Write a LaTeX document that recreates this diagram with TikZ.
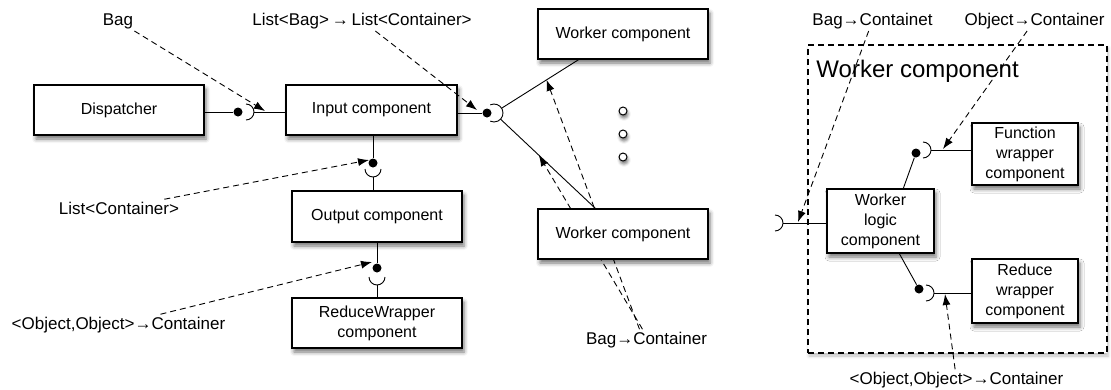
\documentclass[tikz,border=0pt]{standalone}
\usepackage{fontspec}
\setsansfont{Liberation Sans}
\usetikzlibrary{arrows.meta,calc,shadows.blur}

\begin{document}
\begin{tikzpicture}[x=1pt,y=-1pt,>={Latex[length=11pt,width=8pt]},line width=0.9pt,
	comp/.style={draw,fill=white,line width=1.1pt,inner sep=0pt,align=center,
		font=\sffamily\fontsize{16}{20}\selectfont,
		blur shadow={shadow xshift=2pt,shadow yshift=-4pt,shadow blur radius=4pt,shadow opacity=55}},
	wide/.style={minimum width=170pt,minimum height=50pt},
	ball/.style={circle,fill=black,inner sep=0pt,minimum size=9pt},
	dot/.style={circle,draw,fill=white,line width=1pt,inner sep=0pt,minimum size=8pt,
		blur shadow={shadow xshift=1pt,shadow yshift=-3pt,shadow blur radius=3pt,shadow opacity=55}},
	sig/.style={font=\sffamily\fontsize{17}{20}\selectfont,inner sep=2pt,anchor=base},
	dep/.style={->,dash pattern=on 6pt off 4pt}]
\useasboundingbox (0,0) rectangle (1111,389);

% left part: components
\node[comp,wide] (disp) at (119,110) {Dispatcher};
\node[comp,wide,minimum width=171pt] (input) at (371.5,110) {Input component};
\node[comp,wide,minimum height=51pt] (output) at (377,216.5) {Output component};
\node[comp,wide] (rwrapper) at (377,323) {ReduceWrapper\\component};
\node[comp,wide] (workerA) at (623,34) {Worker component};
\foreach \i/\y in {1/111,2/134,3/157}
	\node[dot] (dot\i) at (623,\y) {};

% balls and sockets
\node[ball] (b1) at (238,112) {};
\coordinate (s1) at (246,112);
\node[ball] (b2) at (487,113) {};
\coordinate (s2) at (494,113);
\node[ball] (b3) at (373,163) {};
\coordinate (s3) at (373,169);
\node[ball] (b4) at (377,268) {};
\coordinate (s4) at (377,277);
\coordinate (wa) at (workerA.210);
\coordinate (wb) at (596,209);

% the lower worker hides the dashed lines behind it
\node[sig] (bc) at (646.5,344) {Bag→Container};
\coordinate (t5) at ($(s2)!0.62!(wa)$);
\coordinate (t6) at ($(s2)!0.44!(wb)$);
\draw[dep] ([xshift=-7pt]bc.north) -- (t5);
\draw[dep] ([xshift=-4pt]bc.north) -- (t6);
\node[comp,wide] (workerB) at (623,234) {Worker component};

\draw (disp.east |- b1) -- (b1);
\draw ([shift={(0,-8)}]s1) arc[start angle=-90,end angle=90,radius=8];
\draw ([xshift=8pt]s1) -- (input.west |- s1);
\draw (input.east |- b2) -- (b2);
\draw ([shift={(-115:9)}]s2) arc[start angle=-115,end angle=115,radius=9];
\draw ($(s2)!9pt!(wa)$) -- (wa);
\draw ($(s2)!9pt!(wb)$) -- (wb);
\draw (input.south -| b3) -- (b3);
\draw ([shift={(8,0)}]s3) arc[start angle=0,end angle=180,radius=8];
\draw ([yshift=-8pt]s3) -- (output.north -| s3);
\draw (output.south -| b4) -- (b4);
\draw ([shift={(8,0)}]s4) arc[start angle=0,end angle=180,radius=8];
\draw ([yshift=-8pt]s4) -- (rwrapper.north -| s4);

% left part: signatures
\node[sig] (bag) at (118,25) {Bag};
\node[sig] (lbl) at (362,25) {List<Bag>\,→\,List<Container>};
\node[sig] (lc) at (119,214) {List<Container>};
\node[sig] (ooc) at (118.5,329) {<Object,Object>→Container};
\coordinate (t1) at (265,111);
\coordinate (t2) at (477,110);
\coordinate (t3) at (369,160);
\coordinate (t4) at (372,262);
\draw[dep] (bag) -- (t1);
\draw[dep] (lbl) -- (t2);
\draw[dep] (lc) -- (t3);
\draw[dep] (ooc) -- (t4);

% right part: inside of a worker
\node[draw,fill=white,dash pattern=on 6pt off 4pt,line width=1.1pt,minimum width=299pt,minimum height=308pt,
	blur shadow={shadow xshift=1pt,shadow yshift=-3pt,shadow blur radius=3pt,shadow opacity=25}]
	(frame) at (957.5,199) {};
\node[font=\sffamily\fontsize{24}{28}\selectfont,inner sep=0pt,anchor=base west] (title) at (816,77) {Worker component};
\node[comp,minimum width=107pt,minimum height=64pt] (logic) at (880.5,221) {Worker\\logic\\component};
\node[comp,minimum width=106pt,minimum height=62pt] (fwrap) at (1025,154) {Function\\wrapper\\component};
\node[comp,minimum width=106pt,minimum height=64pt] (rwrap) at (1025,291) {Reduce\\wrapper\\component};

\node[ball] (b5) at (916,153) {};
\coordinate (s5) at (923,150);
\node[ball] (b6) at (919,289) {};
\coordinate (s6) at (926,293);
\coordinate (s7) at (775,223);

\draw (logic.55) -- (b5);
\draw ([shift={(0,-8)}]s5) arc[start angle=-90,end angle=90,radius=8];
\draw ([xshift=8pt]s5) -- (fwrap.west |- s5);
\draw (logic.300) -- (b6);
\draw ([shift={(0,-8)}]s6) arc[start angle=-90,end angle=90,radius=8];
\draw ([xshift=8pt]s6) -- (rwrap.west |- s6);
\draw ([shift={(0,-8)}]s7) arc[start angle=-90,end angle=90,radius=8];
\draw ([xshift=8pt]s7) -- (logic.west |- s7);

\node[sig] (bct) at (872.5,25) {Bag→Containet};
\node[sig] (oc) at (1034.5,25) {Object→Container};
\node[sig] (oocr) at (956.5,384) {<Object,Object>→Container};
\coordinate (t7) at (943,149);
\coordinate (t8) at (945,294);
\coordinate (t9) at (798,222);
\draw[dep] (bct) -- (t9);
\draw[dep] (oc) -- (t7);
\draw[dep] (oocr) -- (t8);
\end{tikzpicture}
\end{document}
